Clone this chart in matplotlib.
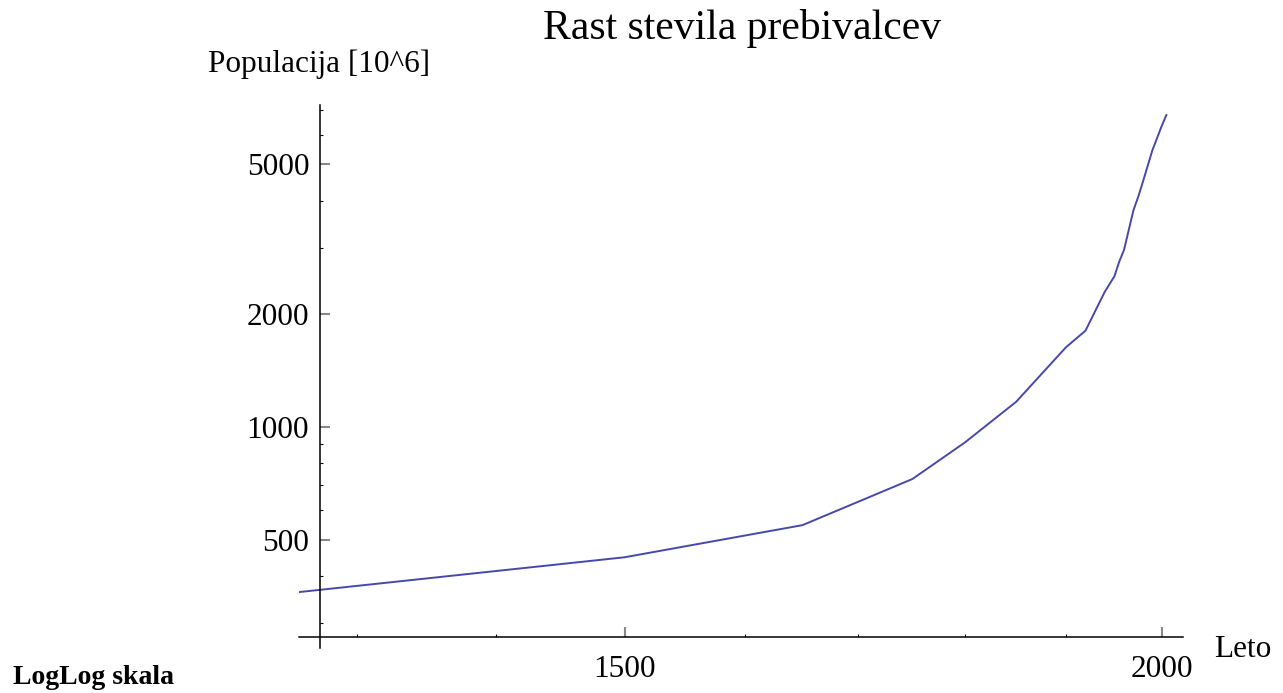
import matplotlib
matplotlib.use('Agg')
import matplotlib.pyplot as plt
from matplotlib.ticker import NullFormatter

# world population (millions)
years = [1250, 1500, 1650, 1750, 1800, 1850, 1900, 1920, 1940, 1950, 1955,
         1960, 1970, 1975, 1980, 1990, 2000, 2005]
population = [360, 450, 548, 727, 910, 1167, 1630, 1805, 2292, 2520, 2755,
              2960, 3780, 4100, 4500, 5450, 6330, 6770]

x_major = [1500, 2000]
x_minor = [1300, 1400, 1600, 1700, 1800, 1900]
y_major = [500, 1000, 2000, 5000]
y_minor = [300, 400, 600, 700, 800, 900, 3000, 4000, 6000, 7000]

plt.rcParams['font.family'] = ['Liberation Serif', 'DejaVu Serif']

fig = plt.figure(figsize=(12.83, 6.93), dpi=100)
ax = fig.add_axes([0.2330, 0.0649, 0.6891, 0.7836])

ax.plot(years, population, color='#4649aa', linewidth=1.4)

ax.set_xscale('log')
ax.set_yscale('log')
ax.set_xlim(1260, 2023)
ax.set_ylim(258, 7200)

# Mathematica-like axes crossing inside the frame
ax.spines['top'].set_visible(False)
ax.spines['right'].set_visible(False)
ax.spines['left'].set_position(('data', 1274.5))
ax.spines['bottom'].set_position(('data', 276))
for s in ('left', 'bottom'):
    ax.spines[s].set_linewidth(1.1)

ax.set_xticks(x_major, labels=[str(v) for v in x_major])
ax.set_xticks(x_minor, minor=True)
ax.set_yticks(y_major, labels=[str(v) for v in y_major])
ax.set_yticks(y_minor, minor=True)
ax.xaxis.set_minor_formatter(NullFormatter())
ax.yaxis.set_minor_formatter(NullFormatter())

ax.tick_params(which='major', direction='in', length=7.5, width=1.5,
               color='#888888', labelsize=22.5, labelcolor='black')
ax.tick_params(which='minor', direction='in', length=2.5, width=0.8,
               color='black')
ax.tick_params(axis='y', which='major', pad=8)
ax.tick_params(axis='x', which='major', pad=13)

fig.text(742 / 1283, 1 - 39 / 693, 'Rast stevila prebivalcev', fontsize=30,
         ha='center', va='baseline')
fig.text(208 / 1283, 1 - 72 / 693, 'Populacija [10^6]', fontsize=22.5,
         ha='left', va='baseline')
fig.text(1214 / 1283, 1 - 657 / 693, 'Leto', fontsize=22.5,
         ha='left', va='baseline')
fig.text(13 / 1283, 1 - 684 / 693, 'LogLog skala', fontsize=20,
         fontweight='bold', ha='left', va='baseline')

fig.savefig('out.png', dpi=100)
